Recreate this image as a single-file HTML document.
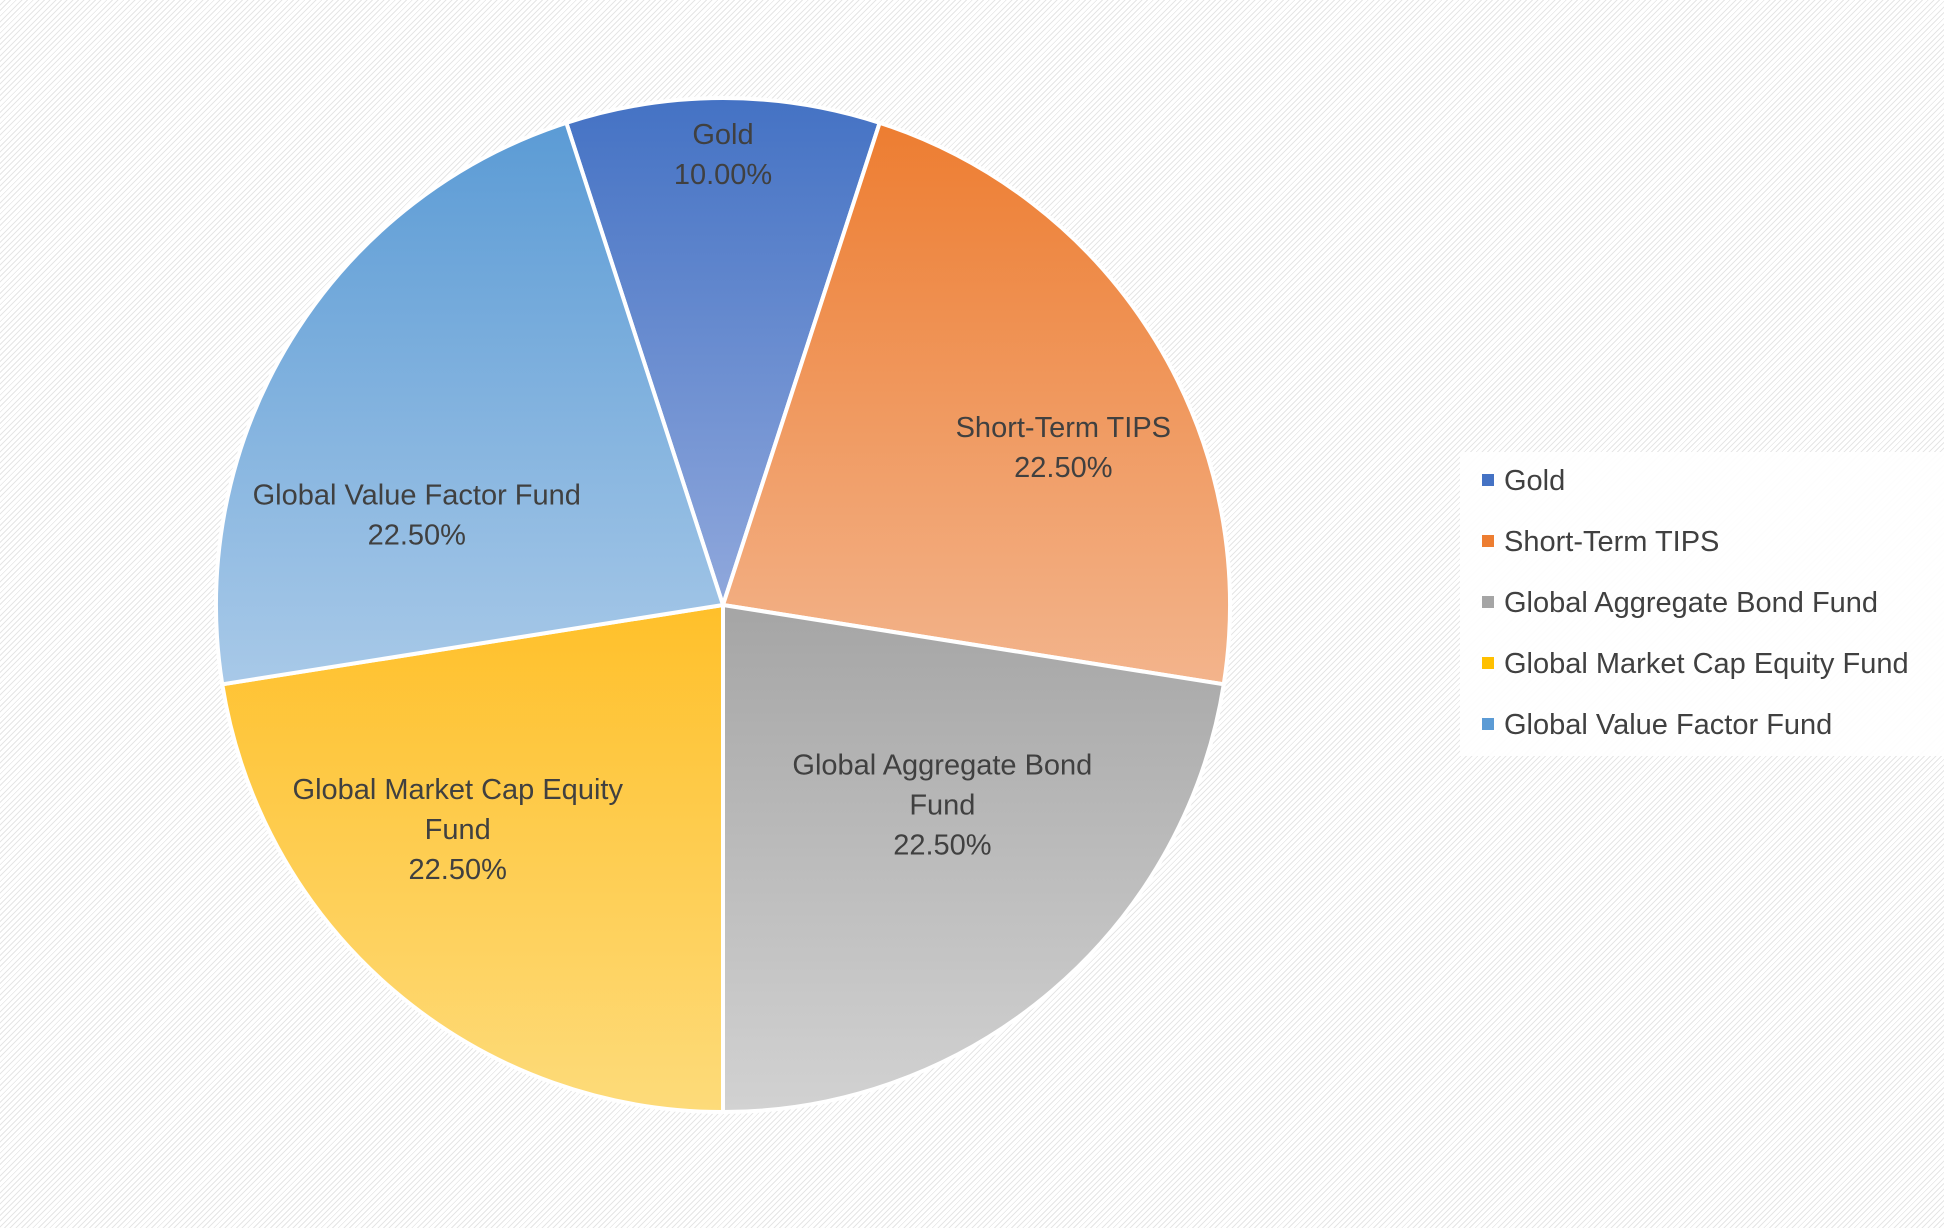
<!DOCTYPE html>
<html><head><meta charset="utf-8"><style>
html,body{margin:0;padding:0;}
body{width:1944px;height:1228px;overflow:hidden;background:#fff repeating-linear-gradient(135deg,#fff 0px,#fff 3px,#e6e6e6 3px,#e6e6e6 4px);font-family:"Liberation Sans",sans-serif;}
svg{position:absolute;left:0;top:0;}
</style></head><body>
<svg id="chart" width="1944" height="1228">
<defs>
<linearGradient id="g0" x1="0" y1="0" x2="0" y2="1"><stop offset="0" stop-color="#4472C4"/><stop offset="1" stop-color="#90a8dc"/></linearGradient>
<linearGradient id="g1" x1="0" y1="0" x2="0" y2="1"><stop offset="0" stop-color="#ED7D31"/><stop offset="1" stop-color="#f3b48c"/></linearGradient>
<linearGradient id="g2" x1="0" y1="0" x2="0" y2="1"><stop offset="0" stop-color="#a5a5a5"/><stop offset="1" stop-color="#d2d2d2"/></linearGradient>
<linearGradient id="g3" x1="0" y1="0" x2="0" y2="1"><stop offset="0" stop-color="#FFC02A"/><stop offset="1" stop-color="#fddb7a"/></linearGradient>
<linearGradient id="g4" x1="0" y1="0" x2="0" y2="1"><stop offset="0" stop-color="#5B9BD5"/><stop offset="1" stop-color="#a8c9e8"/></linearGradient>
</defs>
<g id="slices"></g>
<g id="labels"></g>
<rect x="1460" y="452" width="484" height="304" fill="#fff" fill-opacity="0.9"/>
<g id="legend"></g>
</svg>
<script>
const categories=["Gold","Short-Term TIPS","Global Aggregate Bond Fund","Global Market Cap Equity Fund","Global Value Factor Fund"];
const values=[10.0,22.5,22.5,22.5,22.5];
const labelLines=[["Gold"],["Short-Term TIPS"],["Global Aggregate Bond","Fund"],["Global Market Cap Equity","Fund"],["Global Value Factor Fund"]];
const printed=["10.00%","22.50%","22.50%","22.50%","22.50%"];
const legendColors=["#4472C4","#ED7D31","#A5A5A5","#FFC000","#5B9BD5"];
const NS="http://www.w3.org/2000/svg";
const cx=723,cy=605,R=507;
const labelRFrac=[0.89,0.74,0.585,0.685,0.63];
const labelAngleAdj=[0,6.6,-7.2,9.3,-15];
const total=values.reduce((a,b)=>a+b,0);
const startDeg=-values[0]/total*180;
function pt(deg,r){const a=(deg-90)*Math.PI/180;return [cx+r*Math.cos(a),cy+r*Math.sin(a)];}
const sg=document.getElementById('slices'),lg=document.getElementById('labels'),leg=document.getElementById('legend');
let a=startDeg;
values.forEach((v,i)=>{
 const sweep=v/total*360,a2=a+sweep;
 const p1=pt(a,R),p2=pt(a2,R);
 const p=document.createElementNS(NS,'path');
 p.setAttribute('d',`M${cx},${cy} L${p1[0]},${p1[1]} A${R},${R} 0 ${sweep>180?1:0} 1 ${p2[0]},${p2[1]} Z`);
 p.setAttribute('fill',`url(#g${i})`);p.setAttribute('stroke','#fff');p.setAttribute('stroke-width','4');
 
 
 sg.appendChild(p);
 const mid=a+sweep/2+labelAngleAdj[i];
 const c=pt(mid,R*labelRFrac[i]);
 const lines=labelLines[i].concat([printed[i]]);
 const t=document.createElementNS(NS,'text');
 t.setAttribute('text-anchor','middle');t.setAttribute('font-size','29');t.setAttribute('fill','#404040');
 
 
 lines.forEach((s,k)=>{const ts=document.createElementNS(NS,'tspan');ts.setAttribute('x',c[0]);ts.setAttribute('y',c[1]-(lines.length-1)*20+k*40+10);ts.textContent=s;t.appendChild(ts);});
 lg.appendChild(t);
 a=a2;
});
categories.forEach((c,i)=>{
 const y=480+i*61;
 const g=document.createElementNS(NS,'g');
 
 
 const r=document.createElementNS(NS,'rect');
 r.setAttribute('x',1482);r.setAttribute('y',y-6);r.setAttribute('width',12);r.setAttribute('height',12);r.setAttribute('fill',legendColors[i]);
 const t=document.createElementNS(NS,'text');
 t.setAttribute('x',1504);t.setAttribute('y',y+10);t.setAttribute('font-size','29');t.setAttribute('fill','#404040');t.textContent=c;
 g.appendChild(r);g.appendChild(t);leg.appendChild(g);
});
</script>
</body></html>
